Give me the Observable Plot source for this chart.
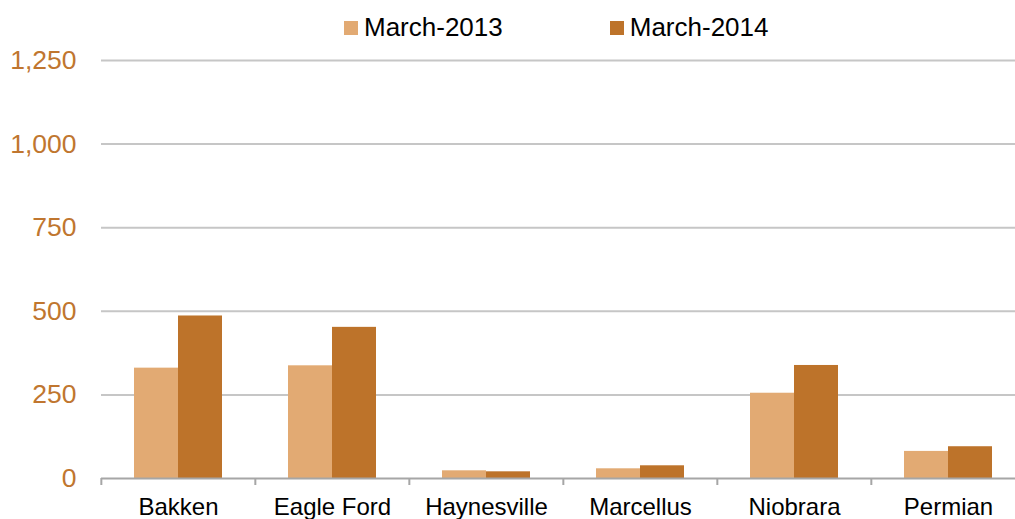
<!DOCTYPE html>
<html>
<head>
<meta charset="utf-8">
<script src="https://cdn.jsdelivr.net/npm/d3@7"></script>
<script src="https://cdn.jsdelivr.net/npm/@observablehq/plot@0.6"></script>
<style>
  html, body { margin: 0; padding: 0; background: #fff; overflow: hidden; }
  body { width: 1015px; height: 519px; font-family: "Liberation Sans", Arial, sans-serif; }
  #legend { height: 36px; display: flex; align-items: center; padding-left: 344px; padding-top: 18px; box-sizing: border-box; }
  .item { display: flex; align-items: center; font-size: 26px; line-height: 30px; color: #000; }
  .sw { width: 14px; height: 14px; margin-right: 6px; margin-top: 1px; }
  #chart svg { display: block; }
</style>
</head>
<body>
<div id="legend"></div>
<div id="chart"></div>
<script>
const regions = ["Bakken", "Eagle Ford", "Haynesville", "Marcellus", "Niobrara", "Permian"];
const series = ["March-2013", "March-2014"];
const values2013 = [330, 337, 23, 29, 255, 81];
const values2014 = [486, 452, 20, 38, 338, 95];
const yTicks = [0, 250, 500, 750, 1000, 1250];
const colors = ["#E2AA73", "#BD732A"];

const data = [];
regions.forEach((r, i) => {
  data.push({region: r, series: series[0], value: values2013[i]});
  data.push({region: r, series: series[1], value: values2014[i]});
});

// legend
const legend = document.getElementById("legend");
series.forEach((s, i) => {
  const item = document.createElement("div");
  item.className = "item";
  if (i > 0) item.style.marginLeft = "107px";
  const sw = document.createElement("div");
  sw.className = "sw";
  sw.style.background = colors[i];
  const t = document.createElement("span");
  t.textContent = s;
  item.appendChild(sw);
  item.appendChild(t);
  legend.appendChild(item);
});

const width = 1015, height = 483, marginLeft = 100, marginRight = -11;
const halfBand = (width - marginLeft - marginRight) / regions.length / 2;

const plot = Plot.plot({
  width, height,
  marginLeft, marginRight,
  marginTop: 24, marginBottom: 41,
  style: {fontFamily: "Liberation Sans, Arial, sans-serif", background: "#fff"},
  fx: {domain: regions, padding: 0, label: null},
  x: {domain: series, paddingInner: 0, paddingOuter: 0.74, axis: null},
  y: {domain: [0, 1250], axis: null},
  color: {domain: series, range: colors},
  marks: [
    Plot.gridY(yTicks.filter(d => d > 0), {stroke: "#c6c6c6", strokeOpacity: 1, strokeWidth: 2}),
    Plot.barY(data, {fx: "region", x: "series", y: "value", fill: "series"}),
    Plot.ruleY([0], {stroke: "#a6a6a6", strokeWidth: 2}),
    Plot.axisY(yTicks, {anchor: "left", tickSize: 0, tickPadding: 25, tickFormat: d3.format(","), fontSize: 26.5, fill: "#C0762F", label: null}),
    Plot.axisFx({anchor: "bottom", tickSize: 0, tickPadding: 19, fontSize: 24, fill: "#000", label: null}),
    Plot.axisFx({anchor: "bottom", tickSize: 7, fill: "none", stroke: "#a6a6a6", strokeWidth: 2, dx: -halfBand, label: null, tickFormat: null})
  ]
});
document.getElementById("chart").appendChild(plot);
</script>
</body>
</html>
